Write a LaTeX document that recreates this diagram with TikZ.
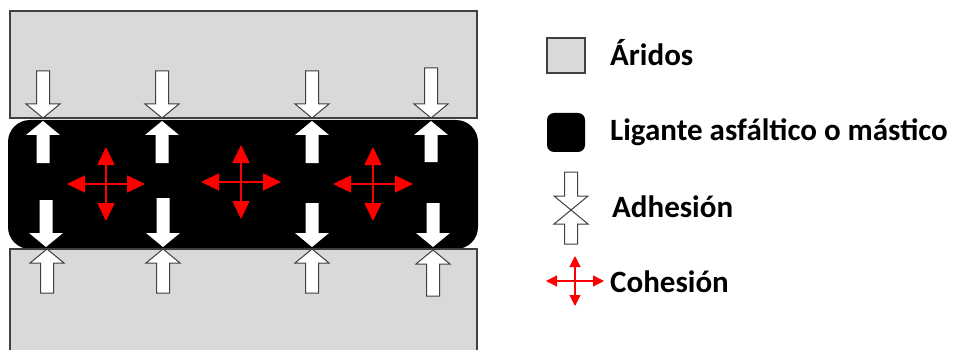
\documentclass[tikz,border=0pt]{standalone}
\usepackage{fontspec}
\setmainfont{Carlito}
\usetikzlibrary{arrows.meta}
\definecolor{aggr}{HTML}{D9D9D9}
\definecolor{edge}{HTML}{404040}
\tikzset{
  aggregate/.style={fill=aggr},
  aggedge/.style={draw=edge, line width=1.2pt},
  binder/.style={fill=black, rounded corners=22pt},
  outlinearrow/.style={draw=edge, fill=white, line width=1pt, line join=miter},
  solidarrow/.style={fill=white, draw=none},
  cohesion/.style={draw=red, line width=1.6pt,
    {Triangle[length=18pt,width=17pt]}-{Triangle[length=18pt,width=17pt]}},
  cohesionsmall/.style={draw=red, line width=1.2pt,
    {Triangle[length=11pt,width=11pt]}-{Triangle[length=11pt,width=11pt]}},
  label/.style={anchor=base west, font=\bfseries\fontsize{31}{34}\selectfont, inner sep=0pt}
}
% block arrow: #1 style, #2 x, #3 tail y, #4 tip y (y grows downward)
\newcommand{\blockarrow}[4]{%
  \pgfmathsetmacro{\dir}{#4>#3 ? 1 : -1}%
  \pgfmathsetmacro{\hb}{#4-\dir*14}%
  \path[#1] (#2-6.5,#3) -- (#2-6.5,\hb) -- (#2-17,\hb) -- (#2,#4)
     -- (#2+17,\hb) -- (#2+6.5,\hb) -- (#2+6.5,#3) -- cycle;}
% red four-way arrow centred at (#2,#3), half-lengths #4 (horizontal) and #5 (vertical)
\newcommand{\crossarrow}[5]{%
  \draw[#1] (#2-#4,#3) -- (#2+#4,#3);
  \draw[#1] (#2,#3-#5) -- (#2,#3+#5);}
\begin{document}
\begin{tikzpicture}[x=1pt,y=-1pt]
\useasboundingbox (0,0) rectangle (953,350);
\clip (0,0) rectangle (953,350);

% asphalt binder layer
\path[binder] (8,120) rectangle (478,249);

% aggregates above and below
\path[aggregate] (10,11) rectangle (477,118);
\draw[aggedge] (10,11) rectangle (477,118);
\path[aggregate] (10,249) rectangle (477,352);
\draw[aggedge] (10,352) -- (10,249) -- (477,249) -- (477,352);

% adhesion arrows, column by column
\blockarrow{outlinearrow}{43}{71}{118}
\blockarrow{solidarrow}{43}{163}{121}
\blockarrow{solidarrow}{46}{200}{247}
\blockarrow{outlinearrow}{47}{293}{249}

\blockarrow{outlinearrow}{162}{71}{118}
\blockarrow{solidarrow}{162}{163}{121}
\blockarrow{solidarrow}{163}{198}{247}
\blockarrow{outlinearrow}{163}{293}{249}

\blockarrow{outlinearrow}{312}{71}{118}
\blockarrow{solidarrow}{312}{163}{121}
\blockarrow{solidarrow}{312}{203}{247}
\blockarrow{outlinearrow}{312}{293}{249}

\blockarrow{outlinearrow}{431}{68}{118}
\blockarrow{solidarrow}{431}{162}{121}
\blockarrow{solidarrow}{433}{203}{247}
\blockarrow{outlinearrow}{433}{296}{250}

% cohesion inside the binder
\crossarrow{cohesion}{106}{184}{39}{37}
\crossarrow{cohesion}{241}{182}{40}{37}
\crossarrow{cohesion}{373}{184}{40}{37}

% legend
\path[aggregate] (547,38) rectangle (585,73);
\draw[aggedge] (547,38) rectangle (585,73);
\node[label] (lar) at (610,66) {Áridos};

\path[fill=black, rounded corners=7pt] (547,113) rectangle (585,152);
\node[label] (llig) at (610,141) {Ligante asfáltico o mástico};

\blockarrow{outlinearrow}{571}{172}{210}
\blockarrow{outlinearrow}{571}{244}{210}
\node[label] (ladh) at (612,217) {Adhesión};

\crossarrow{cohesionsmall}{575}{281}{29}{25}
\node[label] (lcoh) at (610,292) {Cohesión};
\end{tikzpicture}
\end{document}
